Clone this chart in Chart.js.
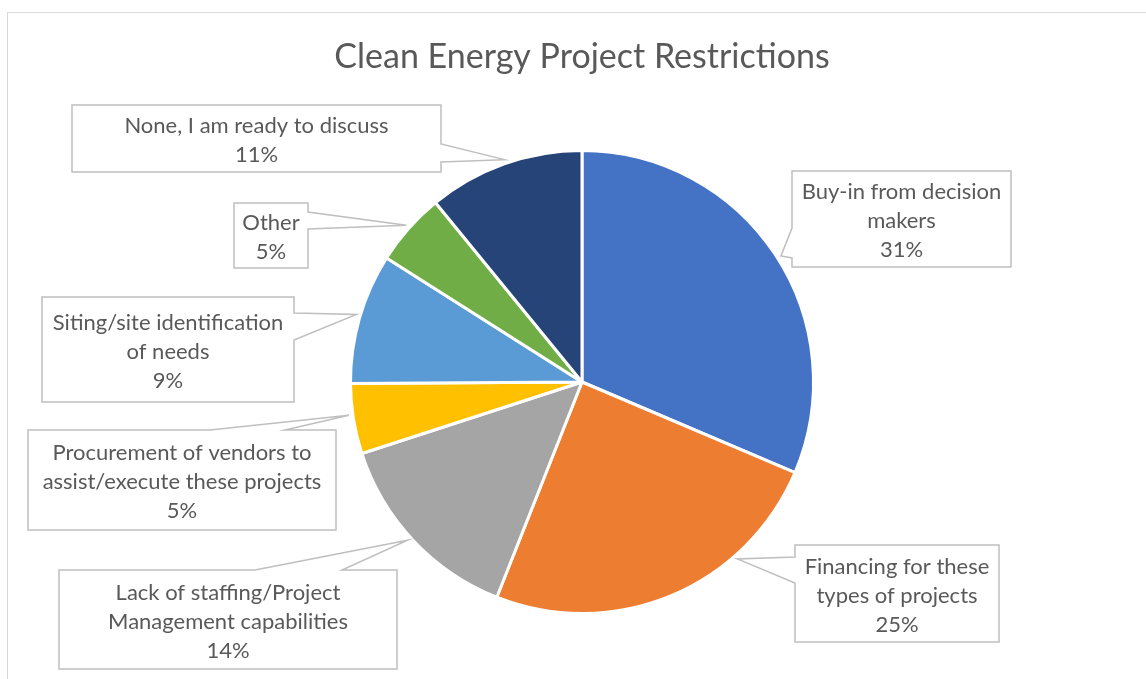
<!DOCTYPE html>
<html>
<head>
<meta charset="utf-8">
<title>Clean Energy Project Restrictions</title>
<script src="https://cdn.jsdelivr.net/npm/chart.js@4.4.1/dist/chart.umd.min.js"></script>
<style>
  html, body { margin: 0; padding: 0; background: #ffffff; }
  #wrap { width: 1146px; height: 679px; }
</style>
</head>
<body>
<div id="wrap"><canvas id="pieChart" width="1146" height="679"></canvas></div>
<script>
// 資料（分類名稱已按照標籤框換行）
const categories = [
    ['Buy-in from decision', 'makers'],
    ['Financing for these', 'types of projects'],
    ['Lack of staffing/Project', 'Management capabilities'],
    ['Procurement of vendors to', 'assist/execute these projects'],
    ['Siting/site identification', 'of needs'],
    ['Other'],
    ['None, I am ready to discuss']
];
const shares = [31.4, 24.6, 14.0, 4.9, 9.1, 5.1, 10.9];
const sliceColors = ['#4472C4', '#ED7D31', '#A5A5A5', '#FFC000', '#5B9BD5', '#70AD47', '#264478'];

// 標籤框位置（版面用）：box = [x, y, w, h]，side = 尖角所在邊，base = 尖角底部兩點，frac = 尖角在扇形內的位置
const calloutBoxes = [
    { box: [792, 171, 219, 96], side: 'left', base: [228, 258], frac: 0.51 },
    { box: [795, 545, 204, 97], side: 'left', base: [557, 583], frac: 0.29 },
    { box: [59, 570, 338, 99], side: 'top', base: [255, 342], frac: 0.52 },
    { box: [28, 430, 308, 100], side: 'top', base: [210, 285], frac: 0.56 },
    { box: [42, 297, 252, 105], side: 'right', base: [313, 340], frac: 0.52 },
    { box: [234, 203, 74, 65], side: 'right', base: [212, 229], frac: 0.51 },
    { box: [72, 105, 369, 67], side: 'right', base: [144, 162], frac: 0.51 }
];

const FONT = 'Lato, "Open Sans", sans-serif';
const TEXT_COLOR = '#595959';

// 外框
const frameBorder = {
    id: 'frameBorder',
    beforeDraw(chart) {
        const ctx = chart.ctx;
        ctx.save();
        ctx.strokeStyle = '#D9D9D9';
        ctx.lineWidth = 1;
        ctx.strokeRect(7.5, 12.5, 2000, 2000);
        ctx.restore();
    }
};

// 標籤框（帶尖角的說明框）
const calloutLabels = {
    id: 'calloutLabels',
    afterDatasetsDraw(chart) {
        const ctx = chart.ctx;
        const meta = chart.getDatasetMeta(0);
        const data = chart.data.datasets[0].data;
        const total = data.reduce((a, b) => a + b, 0);

        meta.data.forEach((arc, i) => {
            const cfg = calloutBoxes[i];
            if (!cfg) return;
            const p = arc.getProps(['x', 'y', 'startAngle', 'endAngle', 'outerRadius'], true);
            const ang = p.startAngle + cfg.frac * (p.endAngle - p.startAngle);
            const tipR = p.outerRadius + 4;
            const tx = p.x + tipR * Math.cos(ang);
            const ty = p.y + tipR * Math.sin(ang);
            const [x, y, w, h] = cfg.box;
            const [b1, b2] = cfg.base;

            ctx.save();
            ctx.beginPath();
            if (cfg.side === 'left') {
                ctx.moveTo(x, y);
                ctx.lineTo(x + w, y);
                ctx.lineTo(x + w, y + h);
                ctx.lineTo(x, y + h);
                ctx.lineTo(x, b2);
                ctx.lineTo(tx, ty);
                ctx.lineTo(x, b1);
            } else if (cfg.side === 'right') {
                ctx.moveTo(x, y);
                ctx.lineTo(x + w, y);
                ctx.lineTo(x + w, b1);
                ctx.lineTo(tx, ty);
                ctx.lineTo(x + w, b2);
                ctx.lineTo(x + w, y + h);
                ctx.lineTo(x, y + h);
            } else {
                ctx.moveTo(x, y);
                ctx.lineTo(b1, y);
                ctx.lineTo(tx, ty);
                ctx.lineTo(b2, y);
                ctx.lineTo(x + w, y);
                ctx.lineTo(x + w, y + h);
                ctx.lineTo(x, y + h);
            }
            ctx.closePath();
            ctx.fillStyle = '#ffffff';
            ctx.fill();
            ctx.strokeStyle = '#BFBFBF';
            ctx.lineWidth = 1.5;
            ctx.lineJoin = 'miter';
            ctx.stroke();

            // 文字
            const lines = [].concat(chart.data.labels[i], [Math.round(data[i] / total * 100) + '%']);
            const lh = 29;
            const cx = x + w / 2;
            const cy = y + h / 2 + 2;
            ctx.fillStyle = TEXT_COLOR;
            ctx.font = '22px ' + FONT;
            ctx.textAlign = 'center';
            ctx.textBaseline = 'middle';
            lines.forEach((line, k) => {
                ctx.fillText(line, cx, cy + (k - (lines.length - 1) / 2) * lh);
            });
            ctx.restore();
        });
    }
};

const ctx = document.getElementById('pieChart').getContext('2d');
const pieChart = new Chart(ctx, {
    type: 'pie',
    data: {
        labels: categories,
        datasets: [{
            data: shares,
            backgroundColor: sliceColors,
            borderColor: '#ffffff',
            borderWidth: 3
        }]
    },
    options: {
        responsive: false,
        animation: false,
        devicePixelRatio: 1,
        layout: {
            padding: { top: 10, bottom: 64, left: 200, right: 182 }
        },
        plugins: {
            legend: { display: false },
            tooltip: { enabled: false },
            title: {
                display: true,
                text: 'Clean Energy Project Restrictions',
                color: TEXT_COLOR,
                font: { family: FONT, size: 34, weight: 'normal' },
                padding: { top: 26.6, bottom: 71.6 }
            }
        }
    },
    plugins: [frameBorder, calloutLabels]
});
</script>
</body>
</html>
